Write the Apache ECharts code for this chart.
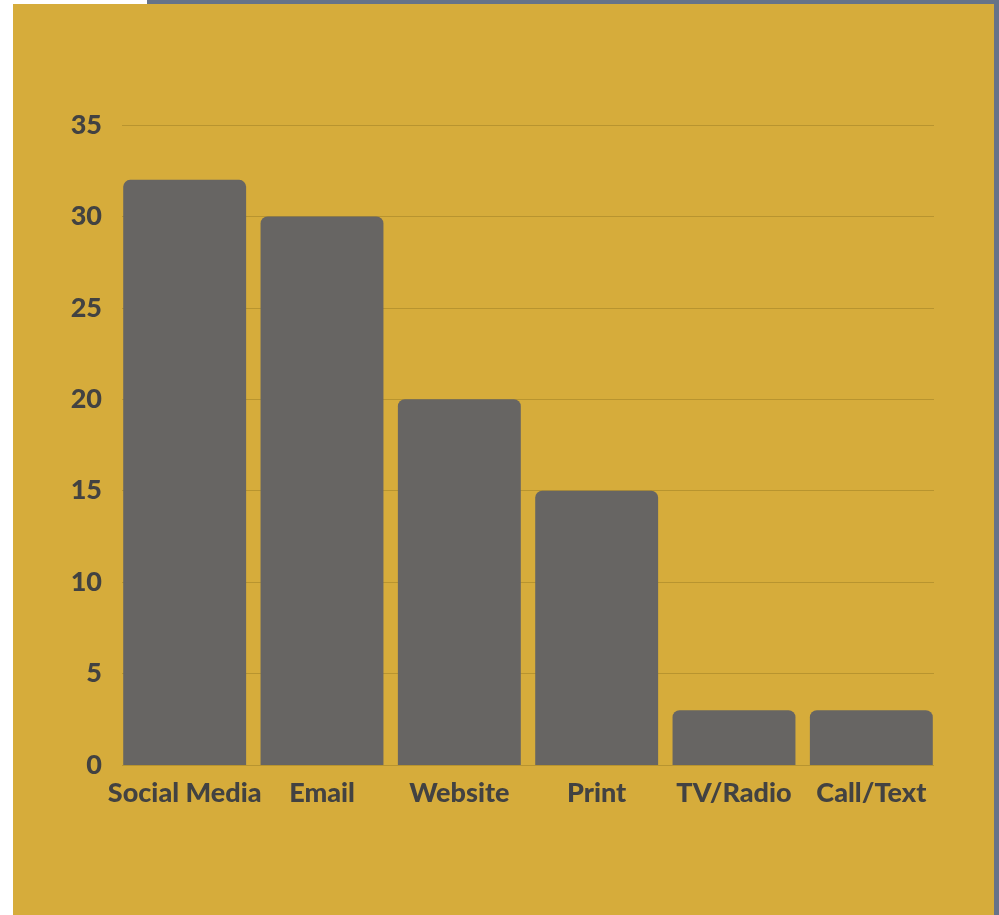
<!DOCTYPE html>
<html><head><meta charset="utf-8">
<script src="https://cdn.jsdelivr.net/npm/echarts@6/dist/echarts.min.js"></script>
<style>
html,body{margin:0;padding:0;background:#fff;width:999px;height:915px;overflow:hidden;}
#back{position:absolute;left:147px;top:0;width:852px;height:915px;background:#667389;}
#panel{position:absolute;left:13px;top:4px;width:981px;height:911px;background:#d6ac3b;}
#chart{position:absolute;left:0;top:0;width:999px;height:915px;}
</style></head>
<body>
<div id="back"></div><div id="panel"></div>
<div id="chart"></div>
<script>
const categories = ['Social Media','Email','Website','Print','TV/Radio','Call/Text'];
const values = [32, 30, 20, 15, 3, 3];
const yTicks = {min:0, max:35, interval:5};

const font = {color:'#424242', fontFamily:'Lato', fontWeight:900, fontSize:27};
const chart = echarts.init(document.getElementById('chart'));
chart.setOption({
  backgroundColor:'transparent',
  grid:[
    {left:122, right:65, top:125, bottom:150},
    {left:116, right:59, top:125, bottom:150}
  ],
  xAxis:[
    {gridIndex:0, type:'category', data:categories, show:false},
    {gridIndex:1, type:'category', data:categories,
     axisLine:{show:false}, axisTick:{show:false},
     axisLabel:Object.assign({margin:15, interval:0}, font)}
  ],
  yAxis:[
    {gridIndex:0, type:'value', min:yTicks.min, max:yTicks.max, interval:yTicks.interval,
     axisLine:{show:false}, axisTick:{show:false},
     splitLine:{lineStyle:{color:'#b8942f', width:1}},
     axisLabel:Object.assign({margin:20}, font)},
    {gridIndex:1, type:'value', min:yTicks.min, max:yTicks.max, interval:yTicks.interval,
     show:false, splitLine:{show:false}}
  ],
  series:[{
    type:'bar', xAxisIndex:1, yAxisIndex:1, data:values, barCategoryGap:'10.5%',
    itemStyle:{color:'#676563', borderRadius:[7,7,0,0]},
    animation:false
  }]
});
</script>
</body></html>
